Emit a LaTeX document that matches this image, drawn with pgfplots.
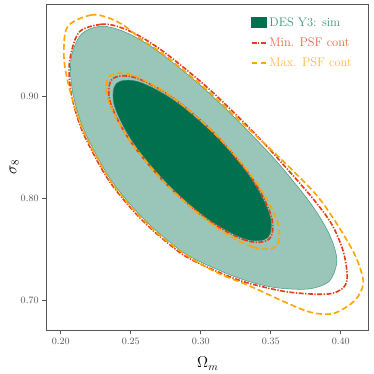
\documentclass[border=0pt]{standalone}
\usepackage{pgfplots}
\pgfplotsset{compat=1.18}
\usetikzlibrary{calc}
\definecolor{desgreen}{HTML}{00704F}
\definecolor{minred}{HTML}{E43D1B}
\definecolor{maxorange}{HTML}{FFA500}
\definecolor{framegray}{HTML}{555555}
\begin{document}
\begin{tikzpicture}
\begin{axis}[
    scale only axis,
    width=297pt, height=300pt,
    xmin=0.19, xmax=0.42, ymin=0.6705, ymax=0.9905,
    axis line style={framegray, line width=0.8pt},
    xtick={0.20,0.25,0.30,0.35,0.40},
    ytick={0.70,0.80,0.90},
    xtick pos=left, ytick pos=left,
    tick align=outside,
    major tick length=4pt,
    tick style={framegray, line width=0.6pt},
    scaled ticks=false,
    /pgf/number format/fixed,
    /pgf/number format/fixed zerofill,
    /pgf/number format/precision=2,
    ticklabel style={font=\fontsize{9.3}{11}\selectfont, text=framegray},
    xlabel={$\Omega_m$}, ylabel={$\sigma_8$},
    label style={font=\fontsize{14}{16}\selectfont},
    xlabel style={yshift=-5pt},
    ylabel style={yshift=-5pt},
    legend style={at={(rel axis cs:0.965,0.975)}, anchor=north east,
        draw=none, fill=none, font=\fontsize{11.5}{13}\selectfont,
        row sep=5pt, cells={anchor=west}},
    legend image code/.code={\draw[#1] (0pt,0pt) -- (13.8pt,0pt);},
]
% outer (2 sigma) contour, sim
\addplot[smooth cycle, tension=0.55, fill=desgreen, fill opacity=0.4,
    draw=desgreen!70, line width=0.5pt, forget plot] coordinates {
    (0.21495,0.96178) (0.22733,0.96909) (0.23895,0.96701) (0.25314,0.95873)
    (0.27164,0.94248) (0.29684,0.91458) (0.31271,0.89470) (0.32809,0.87415)
    (0.34301,0.85297) (0.35745,0.83112) (0.37771,0.79642) (0.38951,0.77094)
    (0.39552,0.75140) (0.39704,0.73540) (0.39173,0.71836) (0.37961,0.71140)
    (0.36597,0.71071) (0.34779,0.71349) (0.32430,0.72288) (0.29290,0.74223)
    (0.27534,0.75979) (0.25940,0.77956) (0.24504,0.80152) (0.23229,0.82569)
    (0.21669,0.86680) (0.20940,0.89850) (0.20703,0.92305) (0.20814,0.94266)
};
% inner (1 sigma) contour, sim
\addplot[smooth cycle, tension=0.55, fill=desgreen, draw=desgreen!85,
    line width=0.4pt,
    legend image code/.code={\fill[desgreen] (0pt,-4.6pt) rectangle (13.8pt,4.6pt);}]
    coordinates {
    (0.34791,0.76145) (0.33201,0.75988) (0.30588,0.77903) (0.27652,0.81378)
    (0.25180,0.85481) (0.23835,0.89112) (0.23977,0.91299) (0.25567,0.91456)
    (0.28180,0.89541) (0.31116,0.86066) (0.33588,0.81963) (0.34933,0.78332)
};
\addlegendentry{\textcolor{desgreen!75}{DES Y3: sim}}
% min PSF contamination
\addplot[smooth cycle, tension=0.55, minred, line width=1.5pt,
    dash pattern=on 4.6pt off 1.4pt on 1.2pt off 1.4pt] coordinates {
    (0.34891,0.76004) (0.33248,0.75851) (0.30544,0.77843) (0.27501,0.81449)
    (0.24936,0.85701) (0.23537,0.89460) (0.23677,0.91720) (0.25320,0.91873)
    (0.28025,0.89881) (0.31067,0.86275) (0.33632,0.82023) (0.35032,0.78264)
};
\addlegendentry{\textcolor{minred!80}{Min. PSF cont}}
\addplot[smooth cycle, tension=0.55, minred, line width=1.5pt,
    dash pattern=on 4.6pt off 1.4pt on 1.2pt off 1.4pt, forget plot] coordinates {
    (0.21345,0.96387) (0.22885,0.97117) (0.24047,0.96908) (0.25466,0.96081)
    (0.27314,0.94454) (0.29834,0.91665) (0.31425,0.89682) (0.32960,0.87624)
    (0.34455,0.85509) (0.35894,0.83318) (0.38011,0.79973) (0.39350,0.77450)
    (0.40150,0.74900) (0.40450,0.72630) (0.40330,0.71480) (0.39740,0.70820)
    (0.38790,0.70560) (0.36640,0.70720) (0.34678,0.71210) (0.32329,0.72149)
    (0.29188,0.74082) (0.27435,0.75842) (0.25839,0.77817) (0.24405,0.80015)
    (0.23127,0.82428) (0.21566,0.86539) (0.20839,0.89710) (0.20602,0.92165)
    (0.20713,0.94126)
};
% max PSF contamination
\addplot[smooth cycle, tension=0.55, maxorange, line width=1.5pt,
    dash pattern=on 5.5pt off 2.8pt] coordinates {
    (0.35392,0.75303) (0.33702,0.75216) (0.30869,0.77388) (0.27651,0.81239)
    (0.24911,0.85737) (0.23383,0.89676) (0.23476,0.92001) (0.25166,0.92089)
    (0.27999,0.89916) (0.31217,0.86065) (0.33957,0.81567) (0.35485,0.77629)
};
\addlegendentry{\textcolor{maxorange!80}{Max. PSF cont}}
\addplot[smooth cycle, tension=0.55, maxorange, line width=1.5pt,
    dash pattern=on 5.5pt off 2.8pt, forget plot] coordinates {
    (0.20485,0.96874) (0.22126,0.98021) (0.23364,0.97778) (0.24576,0.96943)
    (0.25687,0.95691) (0.27203,0.94300) (0.29728,0.91518) (0.31319,0.89536)
    (0.32885,0.87519) (0.34450,0.85502) (0.36016,0.83485) (0.38264,0.80321)
    (0.39728,0.77469) (0.40950,0.74600) (0.41500,0.72600) (0.41580,0.71400)
    (0.41100,0.70100) (0.40210,0.69150) (0.39260,0.68620) (0.37830,0.68800)
    (0.35930,0.69840) (0.33561,0.71342) (0.31193,0.72670) (0.29248,0.74166)
    (0.27480,0.75904) (0.25889,0.77887) (0.24450,0.80077) (0.23187,0.82512)
    (0.21621,0.86615) (0.20839,0.89710) (0.20434,0.91936) (0.20222,0.94092)
};
\end{axis}
\pgfresetboundingbox
\path ($(current axis.south west)+(-43.1pt,-40.6pt)$) rectangle
      ($(current axis.north east)+(4.6pt,4.3pt)$);
\end{tikzpicture}
\end{document}
